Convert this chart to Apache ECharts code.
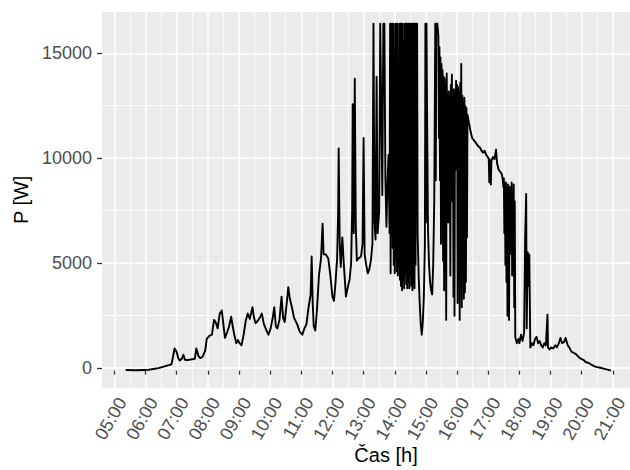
<!DOCTYPE html>
<html>
<head>
<meta charset="utf-8">
<script src="https://cdn.jsdelivr.net/npm/echarts@6.0.0/dist/echarts.min.js"></script>
<style>
  html, body { margin: 0; padding: 0; background: #fff; }
  #chart { width: 630px; height: 470px; }
</style>
</head>
<body>
<div id="chart"></div>
<script>
// measured power, time of day
var times = [
  "05:22","05:40","06:00","06:05","06:15","06:25","06:35","06:45","06:50","06:53","06:56",
  "07:00","07:03","07:06","07:10","07:13","07:16","07:20","07:30","07:35","07:38","07:42","07:45","07:50","07:55","07:58",
  "08:03","08:08","08:12","08:15","08:19","08:23","08:27","08:30","08:33","08:37","08:41","08:45","08:48","08:51","08:55","08:58",
  "09:01","09:05","09:09","09:13","09:17","09:21","09:26","09:29","09:32","09:36","09:40","09:44","09:48","09:53","09:57",
  "10:01","10:05","10:08","10:11","10:14","10:18","10:22","10:25","10:28","10:32","10:35","10:38","10:42","10:46","10:52","10:57",
  "11:02","11:06","11:10","11:14","11:18","11:20","11:22","11:24","11:27","11:30","11:34","11:38","11:41","11:43","11:47","11:52","11:56",
  "12:00","12:03","12:06","12:09","12:11","12:12","12:14","12:16","12:19","12:22","12:26","12:30","12:33","12:36","12:38","12:39","12:41","12:43","12:45","12:47","12:50","12:55","12:58",
  "13:00","13:02","13:05","13:08","13:11","13:14","13:17","13:19","13:21","13:23","13:25","13:27","13:30","13:32","13:34","13:36","13:38","13:40","13:42","13:44","13:46","13:48","13:50","13:51","13:52",
  "13:53","13:54","13:55","13:56","13:57","13:58","13:59","14:00","14:01","14:02","14:03","14:04","14:05","14:06","14:07","14:08","14:09","14:10",
  "14:11","14:12","14:13","14:14","14:15","14:16","14:17","14:18","14:19","14:20","14:21","14:22","14:23","14:24","14:25","14:26","14:27","14:28",
  "14:29","14:30","14:31","14:32","14:33","14:34","14:35","14:36","14:37","14:38","14:39","14:40","14:41","14:42","14:43","14:44",
  "14:46","14:48","14:50","14:52","14:54","14:56","14:58","14:59","15:00","15:01","15:02","15:04","15:06","15:08","15:10","15:12","15:14","15:16","15:18","15:19","15:20","15:22","15:24",
  "15:25","15:26","15:27","15:28","15:29","15:30","15:31","15:32","15:33","15:34","15:35","15:36","15:37","15:38","15:39","15:40","15:41","15:42",
  "15:43","15:44","15:45","15:46","15:47","15:48","15:49","15:50","15:51","15:52","15:53","15:54","15:55","15:56","15:57","15:58","15:59","16:00",
  "16:01","16:02","16:03","16:04","16:05","16:06","16:07","16:08","16:09","16:10","16:11","16:12","16:13","16:14","16:15","16:16","16:17","16:18","16:19","16:20",
  "16:23","16:26","16:29","16:32","16:35","16:38","16:41","16:44","16:47","16:50","16:53","16:56","16:59","17:01","17:02","17:03","17:05","17:06","17:09","17:12","17:15","17:17","17:20","17:23","17:26",
  "17:28","17:29","17:30","17:31","17:32","17:33","17:34","17:35","17:36","17:37","17:38","17:39","17:40","17:41","17:42","17:43","17:44","17:45","17:46","17:47","17:48","17:49","17:50","17:51","17:52",
  "17:55","17:58","18:00","18:03","18:06","18:09","18:11","18:13","18:14","18:16","18:18","18:19","18:21","18:24","18:27","18:30","18:33","18:36","18:39","18:42","18:45","18:48","18:51","18:54","18:55","18:58",
  "19:01","19:05","19:09","19:12","19:16","19:19","19:22","19:26","19:29","19:33","19:36","19:40","19:44","19:48","19:52","19:56",
  "20:00","20:04","20:08","20:12","20:16","20:20","20:25","20:30","20:36","20:42","20:48","20:53","20:56"
];
var power = [
  30,20,30,40,80,120,190,260,300,650,1050,
  900,600,480,560,750,520,500,540,560,1050,700,600,650,950,1500,
  1650,1700,2400,2300,2000,2700,2850,2200,1550,1800,2100,2550,2100,1700,1300,1450,
  1300,1200,1700,2350,2700,2450,3000,2500,2250,2350,2500,2700,2200,1900,1700,
  2000,2500,3000,2100,2000,2400,3500,2500,2300,3200,3950,3400,3000,2500,2200,1850,
  1700,2000,2200,3000,3600,5400,3200,2100,1900,2800,4500,5300,6950,5500,5500,5300,4500,
  3500,3300,4200,5300,7500,10500,6000,4900,6300,5000,3500,4000,4300,5100,7600,12600,6500,13800,6800,5200,5300,5400,6000,
  11000,5500,5000,4600,4800,5200,6000,16400,7000,6200,13900,6500,7500,16400,12400,8300,16400,16400,9000,6800,9000,10200,6500,16400,4600,
  16400,7000,16400,5800,16400,5000,15000,4600,16400,5200,16400,4700,16400,4500,14000,4900,16400,4300,
  16400,4000,16400,3800,16400,4400,15500,3900,16400,4600,16400,4100,16400,3900,16400,4200,16400,3900,
  16400,4500,16400,4000,16400,3800,16400,4100,16400,3900,16400,5000,16400,8000,16400,6500,
  4500,3200,2200,1700,2300,3500,6000,16400,7000,16400,13000,6600,5000,4200,3800,3600,5000,8000,16400,9000,16400,16400,15800,
  11000,15300,9000,14800,6000,14500,10500,14200,5200,13900,3800,13800,9500,13600,2400,14050,10000,13000,
  7000,13200,11000,12900,4500,13500,10500,14000,8000,12800,3500,13300,2600,13000,9500,13700,11000,13500,
  3200,13400,10000,13100,2400,13600,8500,14500,3000,13000,11000,12700,3400,12900,3700,12500,4200,12400,6300,12100,
  11700,11300,11000,10900,10800,10700,10600,10550,10400,10300,10400,10200,10100,10000,8900,10000,8800,9900,10100,10000,10450,9800,9500,9400,9300,
  9000,8700,9100,6500,8800,5000,8900,4200,8600,2600,8800,6000,2400,8700,5500,8500,7000,8900,4500,8400,6500,8800,3000,8000,1600,
  1300,1500,1300,1700,1400,1800,6200,8350,2000,5600,4000,5500,1100,1300,1200,1500,1600,1300,1400,1200,1100,1300,1200,2650,1100,1000,
  1100,1050,1200,1100,1300,1550,1300,1350,1550,1200,1100,900,850,800,700,600,
  550,500,400,380,330,260,200,170,140,100,60,30,10
];
var hourTicks = ["05:00","06:00","07:00","08:00","09:00","10:00","11:00","12:00","13:00","14:00","15:00","16:00","17:00","18:00","19:00","20:00","21:00"];
var powerTicks = [0, 5000, 10000, 15000];

function toHours(t) {
  var p = t.split(":");
  return +p[0] + (+p[1]) / 60;
}

var seriesData = times.map(function (t, i) { return [toHours(t), power[i]]; });
var hMin = toHours(hourTicks[0]);
var hMax = toHours(hourTicks[hourTicks.length - 1]);

var font = "'Liberation Sans', Arial, sans-serif";
var labelColor = "#4D4D4D";

var chart = echarts.init(document.getElementById("chart"), null, { renderer: "svg" });

chart.setOption({
  animation: false,
  backgroundColor: "#fff",
  // panel background (ggplot grey panel)
  graphic: [{
    type: "rect",
    z: -10,
    silent: true,
    shape: { x: 102, y: 12, width: 540, height: 375.7 },
    style: { fill: "#EBEBEB" }
  }],
  grid: [
    // grid 0: x scale (vertical lines) + data
    { left: 114.3, right: 12.7, top: 12, bottom: 82.3 },
    // grid 1: y scale (horizontal lines)
    { left: 102, right: 0, top: 53.3, bottom: 99.3 }
  ],
  xAxis: [{
    gridIndex: 0,
    type: "value",
    min: hMin,
    max: hMax,
    interval: 1,
    axisLine: { show: false },
    axisTick: { show: true, length: 4, lineStyle: { color: "#333", width: 1.3 } },
    minorTick: { show: false, splitNumber: 2 },
    axisLabel: {
      rotate: 60,
      margin: 7,
      verticalAlign: "top",
      color: labelColor,
      fontSize: 18,
      fontFamily: font,
      formatter: function (v) { return hourTicks[Math.round(v - hMin)] || ""; }
    },
    splitLine: { show: true, lineStyle: { color: "#fff", width: 1.6 } },
    minorSplitLine: { show: true, lineStyle: { color: "#fff", width: 0.8 } }
  }, {
    gridIndex: 1,
    type: "value",
    min: 0,
    max: 1,
    axisLine: { show: false },
    axisTick: { show: false },
    axisLabel: { show: false },
    splitLine: { show: false },
    name: "Čas [h]",
    nameLocation: "middle",
    nameGap: 77,
    nameTextStyle: { color: "#000", fontSize: 20, fontFamily: font, padding: [0, 0, 0, 40] }
  }],
  yAxis: [{
    gridIndex: 0,
    type: "value",
    min: -803,
    max: 16952,
    axisLine: { show: false },
    axisTick: { show: false },
    axisLabel: { show: false },
    splitLine: { show: false },
    name: "P [W]",
    nameLocation: "middle",
    nameRotate: 90,
    nameGap: 83,
    nameTextStyle: { color: "#000", fontSize: 20, fontFamily: font }
  }, {
    gridIndex: 1,
    type: "value",
    min: powerTicks[0],
    max: powerTicks[powerTicks.length - 1],
    interval: 5000,
    axisLine: { show: false },
    axisTick: { show: true, length: 5, lineStyle: { color: "#333", width: 1.3 } },
    minorTick: { show: false, splitNumber: 2 },
    axisLabel: {
      margin: 10,
      color: labelColor,
      fontSize: 18,
      fontFamily: font,
      formatter: function (v) { return String(v); }
    },
    splitLine: { show: true, lineStyle: { color: "#fff", width: 1.6 } },
    minorSplitLine: { show: true, lineStyle: { color: "#fff", width: 0.8 } }
  }],
  series: [{
    type: "line",
    xAxisIndex: 0,
    yAxisIndex: 0,
    data: seriesData,
    showSymbol: false,
    symbol: "none",
    clip: true,
    lineStyle: { color: "#000", width: 1.9, join: "round" }
  }]
});
</script>
</body>
</html>
